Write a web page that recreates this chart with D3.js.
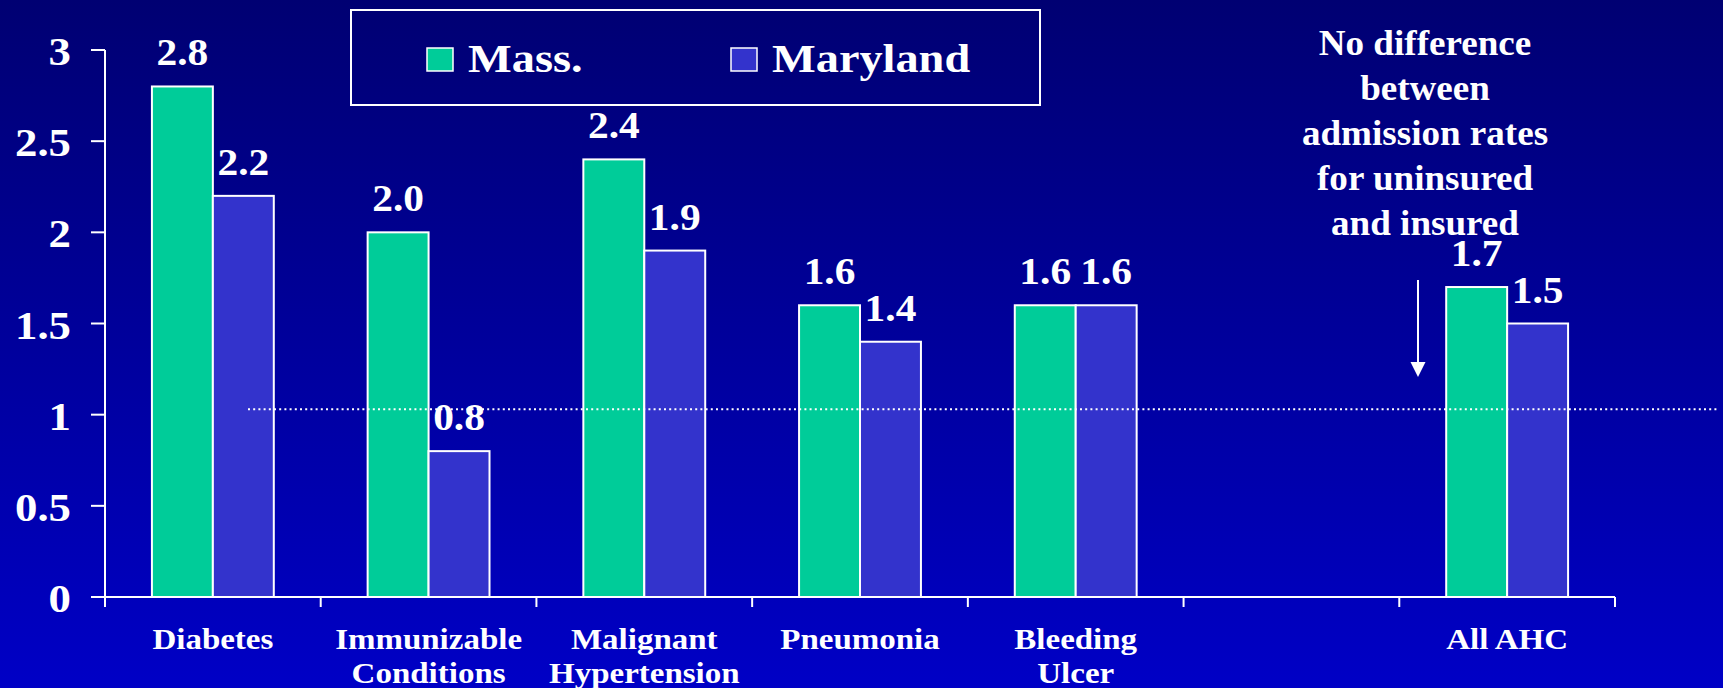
<!DOCTYPE html>
<html>
<head>
<meta charset="utf-8">
<script src="https://cdn.jsdelivr.net/npm/d3@7/dist/d3.min.js"></script>
<style>
  html, body { margin: 0; padding: 0; background: #0000a0; }
  svg { display: block; }
</style>
</head>
<body>
<svg id="chart" width="1723" height="688"></svg>
<script>
// Avoidable hospitalization rates, uninsured vs insured ratio by condition
const categories = ["Diabetes", "Immunizable Conditions", "Malignant Hypertension", "Pneumonia", "Bleeding Ulcer", "", "All AHC"];
const categoryLines = [["Diabetes"], ["Immunizable", "Conditions"], ["Malignant", "Hypertension"], ["Pneumonia"], ["Bleeding", "Ulcer"], [], ["All AHC"]];
const seriesNames = ["Mass.", "Maryland"];
const massValues = [2.8, 2.0, 2.4, 1.6, 1.6, null, 1.7];
const marylandValues = [2.2, 0.8, 1.9, 1.4, 1.6, null, 1.5];
const yTicks = [0, 0.5, 1, 1.5, 2, 2.5, 3];
const referenceLevel = 1.03;
const noteLines = ["No difference", "between", "admission rates", "for uninsured", "and insured"];

const colors = { "Mass.": "#00cc99", "Maryland": "#3333cc" };
const serif = "'Liberation Serif', 'Times New Roman', Times, serif";
const stretch = 1.12;

const svg = d3.select("#chart");
const W = 1723, H = 688;

// background gradient
const defs = svg.append("defs");
const grad = defs.append("linearGradient").attr("id", "bg").attr("x1", 0).attr("y1", 0).attr("x2", 0).attr("y2", 1);
grad.append("stop").attr("offset", "0%").attr("stop-color", "#000072");
grad.append("stop").attr("offset", "100%").attr("stop-color", "#0000c6");
svg.append("rect").attr("width", W).attr("height", H).attr("fill", "url(#bg)");

const x0 = d3.scaleBand().domain(categories).range([105, 1615]).paddingInner(0).paddingOuter(0);
const x1 = d3.scaleBand().domain(seriesNames).range([0, x0.bandwidth()]).paddingInner(0).paddingOuter(0.77);
const y = d3.scaleLinear().domain([0, 3]).range([597, 50]);

// helper: horizontally stretched text
function stretchedText(g, tx, ty, str, size, anchor, sx) {
  return g.append("text")
    .attr("transform", `translate(${tx},${ty}) scale(${sx || stretch},1)`)
    .attr("text-anchor", anchor)
    .attr("font-family", serif)
    .attr("font-weight", "bold")
    .attr("font-size", size)
    .attr("fill", "#ffffff")
    .text(str);
}

// bars
const rows = categories.map((c, i) => ({ cat: c, vals: [
  { key: "Mass.", v: massValues[i] },
  { key: "Maryland", v: marylandValues[i] }
]}));

const barG = svg.append("g");
const groups = barG.selectAll("g.cat").data(rows).join("g")
  .attr("class", "cat")
  .attr("transform", d => `translate(${x0(d.cat)},0)`);

groups.selectAll("rect").data(d => d.vals.filter(v => v.v != null)).join("rect")
  .attr("x", d => x1(d.key))
  .attr("y", d => y(d.v))
  .attr("width", x1.bandwidth())
  .attr("height", d => y(0) - y(d.v))
  .attr("fill", d => colors[d.key])
  .attr("stroke", "#ffffff")
  .attr("stroke-width", 2);

// value labels
const fmt = d3.format(".1f");
rows.forEach(r => {
  r.vals.filter(v => v.v != null).forEach(v => {
    stretchedText(svg, x0(r.cat) + x1(v.key) + x1.bandwidth() / 2, y(v.v) - 21, fmt(v.v), 37, "middle");
  });
});

// reference dotted line
svg.append("line")
  .attr("x1", 248).attr("x2", 1718)
  .attr("y1", y(referenceLevel)).attr("y2", y(referenceLevel))
  .attr("stroke", "#ffffff")
  .attr("stroke-width", 2)
  .attr("stroke-dasharray", "2,3.2");

// y axis
const axisG = svg.append("g").attr("stroke", "#ffffff").attr("stroke-width", 2);
axisG.append("line").attr("x1", 105).attr("x2", 105).attr("y1", y(3)).attr("y2", y(0));
yTicks.forEach(t => {
  axisG.append("line").attr("x1", 91).attr("x2", 105).attr("y1", y(t)).attr("y2", y(t));
  stretchedText(svg, 71, y(t) + 15, d3.format("~g")(t), 40, "end");
});

// x axis
axisG.append("line").attr("x1", 105).attr("x2", 1615).attr("y1", y(0)).attr("y2", y(0));
const boundaries = categories.map(c => x0(c)).concat([x0.range()[1]]);
boundaries.forEach(bx => {
  axisG.append("line").attr("x1", bx).attr("x2", bx).attr("y1", y(0)).attr("y2", y(0) + 10);
});

// category labels
categories.forEach((c, i) => {
  categoryLines[i].forEach((line, j) => {
    stretchedText(svg, x0(c) + x0.bandwidth() / 2, 649 + j * 34, line, 30, "middle", 1.1);
  });
});

// legend
const legend = svg.append("g");
legend.append("rect").attr("x", 351).attr("y", 10).attr("width", 689).attr("height", 95)
  .attr("fill", "none").attr("stroke", "#ffffff").attr("stroke-width", 2);
const legendX = [427, 731];
seriesNames.forEach((s, i) => {
  legend.append("rect").attr("x", legendX[i]).attr("y", 48).attr("width", 26).attr("height", 23)
    .attr("fill", colors[s]).attr("stroke", "#ffffff").attr("stroke-width", 1.5);
  stretchedText(legend, legendX[i] + 41, 72, s, 41, "start", 1.13);
});

// annotation
noteLines.forEach((line, i) => {
  stretchedText(svg, 1425, 55 + i * 45, line, 35, "middle", 1.06);
});

// arrow
svg.append("line").attr("x1", 1418).attr("x2", 1418).attr("y1", 280).attr("y2", 364)
  .attr("stroke", "#ffffff").attr("stroke-width", 2);
svg.append("path").attr("d", "M1410.5,362 L1425.5,362 L1418,377 Z").attr("fill", "#ffffff");
</script>
</body>
</html>
